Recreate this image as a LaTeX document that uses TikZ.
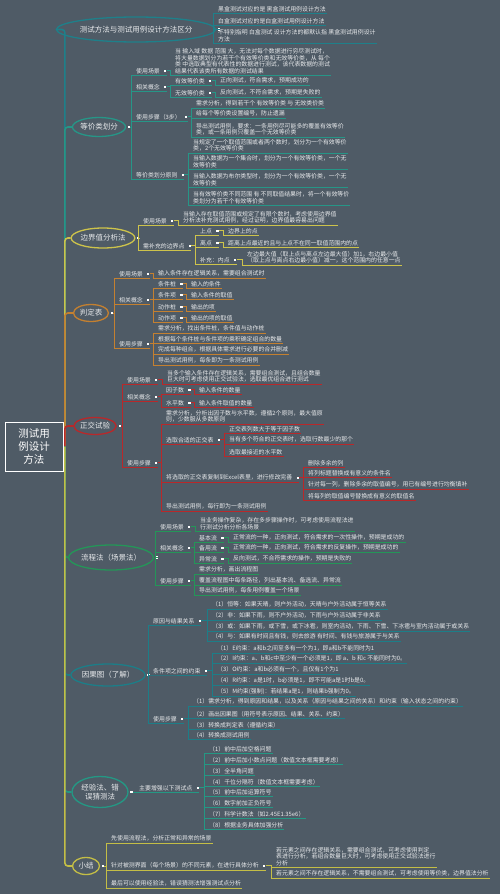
\documentclass[tikz,border=0pt]{standalone}
\usepackage{fontspec}
\setmainfont{Noto Sans CJK SC}
\usetikzlibrary{shapes.geometric,positioning}

\definecolor{bgcol}{RGB}{79,91,102}
\definecolor{txtcol}{RGB}{232,234,236}
\definecolor{c1}{RGB}{30,128,138}
\definecolor{c2}{RGB}{38,150,135}
\definecolor{c3}{RGB}{205,195,75}
\definecolor{c4}{RGB}{196,128,48}
\definecolor{c5}{RGB}{185,40,42}
\definecolor{c6}{RGB}{36,150,88}
\definecolor{c7}{RGB}{28,126,136}
\definecolor{c8}{RGB}{36,152,132}
\definecolor{c9}{RGB}{196,190,70}

\begin{document}
\begin{tikzpicture}[x=1pt, y=-1pt,
  every node/.style={text=txtcol},
  topic/.style={ellipse, draw, line width=1.3pt, inner sep=0pt, align=center, font=\fontsize{7.5}{9}\selectfont},
  leaf/.style={anchor=south west, inner xsep=1pt, inner ysep=1.2pt, align=left, font=\fontsize{5.9}{6.4}\selectfont},
  knob/.style={fill=white, inner sep=0pt, minimum size=2.2pt},
  trunk/.style={line width=1.6pt, rounded corners=3pt},
  sub/.style={line width=0.9pt}]

  \fill[bgcol] (0,0) rectangle (500,894);
  \useasboundingbox (0,0) rectangle (500,894);

  \node[draw=white, line width=0.8pt, minimum width=58pt, minimum height=49pt, inner sep=0pt,
        align=center, text=white, font=\fontsize{10.5}{13}\selectfont] (root) at (34,446.5) {测试用\\例设计\\方法};

  % first level
  \node[topic, draw=c1, minimum width=136pt, minimum height=25pt] (n1) at (136,29.5) {测试方法与测试用例设计方法区分};
  \node[topic, draw=c2, minimum width=52pt, minimum height=19pt] (n2) at (99,127) {等价类划分};
  \node[topic, draw=c3, minimum width=60pt, minimum height=20pt] (n3) at (103,238) {边界值分析法};
  \node[topic, draw=c4, minimum width=35pt, minimum height=17pt] (n4) at (91,313) {判定表};
  \node[topic, draw=c5, minimum width=42pt, minimum height=17pt] (n5) at (95,426) {正交试验};
  \node[topic, draw=c6, minimum width=77pt, minimum height=25pt] (n6) at (111,557.5) {流程法（场景法）};
  \node[topic, draw=c7, minimum width=70pt, minimum height=22pt] (n7) at (108,675) {因果图（了解）};
  \node[topic, draw=c8, minimum width=56pt, minimum height=31pt] (n8) at (100,792) {经验法、错\\误猜测法};
  \node[topic, draw=c9, minimum width=27pt, minimum height=17pt] (n9) at (86,866) {小结};

  \draw[trunk,c1] ([xshift=1.5pt]root.east) |- (n1.west);
  \draw[trunk,c2] ([xshift=1.5pt]root.east) |- (n2.west);
  \draw[trunk,c3] ([xshift=1.5pt]root.east) |- (n3.west);
  \draw[trunk,c4] ([xshift=1.5pt]root.east) |- (n4.west);
  \draw[trunk,c5] ([xshift=1.5pt]root.east) |- (n5.west);
  \draw[trunk,c6] ([xshift=1.5pt]root.east) |- (n6.west);
  \draw[trunk,c7] ([xshift=1.5pt]root.east) |- (n7.west);
  \draw[trunk,c8] ([xshift=1.5pt]root.east) |- (n8.west);
  \draw[trunk,c9] ([xshift=1.5pt]root.east) |- (n9.west);

  % 测试方法与测试用例设计方法区分
  \node[knob, right=1.5pt of n1] (p1) {};
  \node[leaf] (a11) at (217,13) {黑盒测试对应的是 黑盒测试用例设计方法};
  \node[leaf] (a12) at (217,25) {白盒测试对应的是白盒测试用例设计方法};
  \node[leaf] (a13) at (217,43) {不特别指明 白盒测试 设计方法的都默认指 黑盒测试用例设计\\方法};
  \draw[sub,c1] (p1.east) -| ([xshift=-4pt]a11.south west) -- (a11.south east);
  \draw[sub,c1] (p1.east) -| ([xshift=-4pt]a12.south west) -- (a12.south east);
  \draw[sub,c1] (p1.east) -| ([xshift=-4pt]a13.south west) -- (a13.south east);

  % 等价类划分
  \node[knob, right=1.5pt of n2] (p2) {};
  \node[leaf] (b1) at (135,75) {使用场景};
  \node[knob, right=3pt of b1] (b1d) {};
  \node[leaf] (b1a) at (174,75) {当 输入域 数据 范围 大，无法对每个数据进行穷尽测试时，\\将大量数据划分为若干个有效等价类和无效等价类，从 每个\\类 中选取典型有代表性的数据进行测试，该代表数据的测试\\结果代表该类所有数据的测试结果};
  \node[leaf] (b2) at (135,91) {相关概念};
  \node[knob, right=3pt of b2] (b2d) {};
  \node[leaf] (b21) at (174,85) {有效等价类};
  \node[knob, right=3pt of b21] (b21d) {};
  \node[leaf] (b21a) at (219,85) {正向测试，符合需求，预期成功的};
  \node[leaf] (b22) at (174,97) {无效等价类};
  \node[knob, right=3pt of b22] (b22d) {};
  \node[leaf] (b22a) at (219,97) {反向测试，不符合需求，预期是失败的};
  \node[leaf] (b3) at (135,121) {使用步骤（3步）};
  \node[knob, right=3pt of b3] (b3d) {};
  \node[leaf] (b31) at (195,108) {需求分析，得到若干个 有效等价类 与 无效类价类};
  \node[leaf] (b32) at (195,118) {给每个等价类设置编号，防止遗漏};
  \node[leaf] (b33) at (195,137) {导出测试用例，要求：一条用例尽可能多的覆盖有效等价\\类，或一条用例只覆盖一个无效等价类};
  \node[leaf] (b4) at (135,179) {等价类划分原则};
  \node[knob, right=3pt of b4] (b4d) {};
  \node[leaf] (b41) at (192,153) {当规定了一个取值范围或者两个数时，划分为一个有效等价\\类，2个无效等价类};
  \node[leaf] (b42) at (192,169) {当输入数据为一个集合时，划分为一个有效等价类，一个无\\效等价类};
  \node[leaf] (b43) at (192,187) {当输入数据为布尔类型时，划分为一个有效等价类，一个无\\效等价类};
  \node[leaf] (b44) at (192,205) {当有效等价类不同范围 有 不同取值结果时，将一个有效等价\\类划分为若干个有效等价类};
  \draw[sub,c2] (p2.east) -| ([xshift=-4pt]b1.south west) -- (b1.south east -| b1d.east);
  \draw[sub,c2] (b1d.east) -| ([xshift=-4pt]b1a.south west) -- (b1a.south east);
  \draw[sub,c2] (p2.east) -| ([xshift=-4pt]b2.south west) -- (b2.south east -| b2d.east);
  \draw[sub,c2] (b2d.east) -| ([xshift=-4pt]b21.south west) -- (b21.south east -| b21d.east);
  \draw[sub,c2] (b21d.east) -| ([xshift=-4pt]b21a.south west) -- (b21a.south east);
  \draw[sub,c2] (b2d.east) -| ([xshift=-4pt]b22.south west) -- (b22.south east -| b22d.east);
  \draw[sub,c2] (b22d.east) -| ([xshift=-4pt]b22a.south west) -- (b22a.south east);
  \draw[sub,c2] (p2.east) -| ([xshift=-4pt]b3.south west) -- (b3.south east -| b3d.east);
  \draw[sub,c2] (b3d.east) -| ([xshift=-4pt]b31.south west) -- (b31.south east);
  \draw[sub,c2] (b3d.east) -| ([xshift=-4pt]b32.south west) -- (b32.south east);
  \draw[sub,c2] (b3d.east) -| ([xshift=-4pt]b33.south west) -- (b33.south east);
  \draw[sub,c2] (p2.east) -| ([xshift=-4pt]b4.south west) -- (b4.south east -| b4d.east);
  \draw[sub,c2] (b4d.east) -| ([xshift=-4pt]b41.south west) -- (b41.south east);
  \draw[sub,c2] (b4d.east) -| ([xshift=-4pt]b42.south west) -- (b42.south east);
  \draw[sub,c2] (b4d.east) -| ([xshift=-4pt]b43.south west) -- (b43.south east);
  \draw[sub,c2] (b4d.east) -| ([xshift=-4pt]b44.south west) -- (b44.south east);

  % 边界值分析法
  \node[knob, right=1.5pt of n3] (p3) {};
  \node[leaf] (e1) at (142,225) {使用场景};
  \node[knob, right=3pt of e1] (e1d) {};
  \node[leaf] (e1a) at (182,225) {当输入存在取值范围或规定了有限个数时，考虑使用边界值\\分析法补充测试用例，经过证明，边界值最容易出问题};
  \node[leaf] (e2) at (142,250) {需补充的边界点};
  \node[knob, right=3pt of e2] (e2d) {};
  \node[leaf] (e21) at (199,235) {上点};
  \node[knob, right=3pt of e21] (e21d) {};
  \node[leaf] (e21a) at (227,235) {边界上的点};
  \node[leaf] (e22) at (199,247) {离点};
  \node[knob, right=3pt of e22] (e22d) {};
  \node[leaf] (e22a) at (227,247) {距离上点最近的且与上点不在同一取值范围内的点};
  \node[leaf] (e23) at (199,264) {补充：内点};
  \node[knob, right=3pt of e23] (e23d) {};
  \node[leaf] (e23a) at (246,265) {左边最大值（取上点与离点左边最大值）加1，右边最小值\\（取上点与离点右边最小值）减一，这个范围内的任意一点};
  \draw[sub,c3] (p3.east) -| ([xshift=-4pt]e1.south west) -- (e1.south east -| e1d.east);
  \draw[sub,c3] (e1d.east) -| ([xshift=-4pt]e1a.south west) -- (e1a.south east);
  \draw[sub,c3] (p3.east) -| ([xshift=-4pt]e2.south west) -- (e2.south east -| e2d.east);
  \draw[sub,c3] (e2d.east) -| ([xshift=-4pt]e21.south west) -- (e21.south east -| e21d.east);
  \draw[sub,c3] (e21d.east) -| ([xshift=-4pt]e21a.south west) -- (e21a.south east);
  \draw[sub,c3] (e2d.east) -| ([xshift=-4pt]e22.south west) -- (e22.south east -| e22d.east);
  \draw[sub,c3] (e22d.east) -| ([xshift=-4pt]e22a.south west) -- (e22a.south east);
  \draw[sub,c3] (e2d.east) -| ([xshift=-4pt]e23.south west) -- (e23.south east -| e23d.east);
  \draw[sub,c3] (e23d.east) -| ([xshift=-4pt]e23a.south west) -- (e23a.south east);

  % 判定表
  \node[knob, right=1.5pt of n4] (p4) {};
  \node[leaf] (f1) at (118,278) {使用场景};
  \node[knob, right=3pt of f1] (f1d) {};
  \node[leaf] (f1a) at (157,278) {输入条件存在逻辑关系，需要组合测试时};
  \node[leaf] (f2) at (118,304) {相关概念};
  \node[knob, right=3pt of f2] (f2d) {};
  \node[leaf] (f21) at (157,288) {条件桩};
  \node[knob, right=3pt of f21] (f21d) {};
  \node[leaf] (f21a) at (190,288) {输入的条件};
  \node[leaf] (f22) at (157,299) {条件项};
  \node[knob, right=3pt of f22] (f22d) {};
  \node[leaf] (f22a) at (190,299) {输入条件的取值};
  \node[leaf] (f23) at (157,311) {动作桩};
  \node[knob, right=3pt of f23] (f23d) {};
  \node[leaf] (f23a) at (190,311) {输出的项};
  \node[leaf] (f24) at (157,322) {动作项};
  \node[knob, right=3pt of f24] (f24d) {};
  \node[leaf] (f24a) at (190,322) {输出的项的取值};
  \node[leaf] (f3) at (118,348) {使用步骤};
  \node[knob, right=3pt of f3] (f3d) {};
  \node[leaf] (f31) at (157,333) {需求分析，找出条件桩，条件值与动作桩};
  \node[leaf] (f32) at (157,343) {根据每个条件桩与条件项的乘积确定组合的数量};
  \node[leaf] (f33) at (157,354) {完成每种组合，根据具体需求进行必要的合并删减};
  \node[leaf] (f34) at (157,365) {导出测试用例，每条即为一条测试用例};
  \draw[sub,c4] (p4.east) -| ([xshift=-4pt]f1.south west) -- (f1.south east -| f1d.east);
  \draw[sub,c4] (f1d.east) -| ([xshift=-4pt]f1a.south west) -- (f1a.south east);
  \draw[sub,c4] (p4.east) -| ([xshift=-4pt]f2.south west) -- (f2.south east -| f2d.east);
  \draw[sub,c4] (f2d.east) -| ([xshift=-4pt]f21.south west) -- (f21.south east -| f21d.east);
  \draw[sub,c4] (f21d.east) -| ([xshift=-4pt]f21a.south west) -- (f21a.south east);
  \draw[sub,c4] (f2d.east) -| ([xshift=-4pt]f22.south west) -- (f22.south east -| f22d.east);
  \draw[sub,c4] (f22d.east) -| ([xshift=-4pt]f22a.south west) -- (f22a.south east);
  \draw[sub,c4] (f2d.east) -| ([xshift=-4pt]f23.south west) -- (f23.south east -| f23d.east);
  \draw[sub,c4] (f23d.east) -| ([xshift=-4pt]f23a.south west) -- (f23a.south east);
  \draw[sub,c4] (f2d.east) -| ([xshift=-4pt]f24.south west) -- (f24.south east -| f24d.east);
  \draw[sub,c4] (f24d.east) -| ([xshift=-4pt]f24a.south west) -- (f24a.south east);
  \draw[sub,c4] (p4.east) -| ([xshift=-4pt]f3.south west) -- (f3.south east -| f3d.east);
  \draw[sub,c4] (f3d.east) -| ([xshift=-4pt]f31.south west) -- (f31.south east);
  \draw[sub,c4] (f3d.east) -| ([xshift=-4pt]f32.south west) -- (f32.south east);
  \draw[sub,c4] (f3d.east) -| ([xshift=-4pt]f33.south west) -- (f33.south east);
  \draw[sub,c4] (f3d.east) -| ([xshift=-4pt]f34.south west) -- (f34.south east);

  % 正交试验
  \node[knob, right=1.5pt of n5] (p5) {};
  \node[leaf] (g1) at (126,384) {使用场景};
  \node[knob, right=3pt of g1] (g1d) {};
  \node[leaf] (g1a) at (166,384) {当多个输入条件存在逻辑关系，需要组合测试，且组合数量\\巨大时可考虑使用正交试验法，选取最优组合进行测试};
  \node[leaf] (g2) at (126,401) {相关概念};
  \node[knob, right=3pt of g2] (g2d) {};
  \node[leaf] (g21) at (165,394) {因子数};
  \node[knob, right=3pt of g21] (g21d) {};
  \node[leaf] (g21a) at (198,394) {输入条件的数量};
  \node[leaf] (g22) at (165,407) {水平数};
  \node[knob, right=3pt of g22] (g22d) {};
  \node[leaf] (g22a) at (198,407) {输入条件取值的数量};
  \node[leaf] (g3) at (126,467) {使用步骤};
  \node[knob, right=3pt of g3] (g3d) {};
  \node[leaf] (g31) at (165,424) {需求分析，分析出因子数与水平数，遵循2个原则，最大值原\\则，少数服从多数原则};
  \node[leaf] (g32) at (165,444) {选取合适的正交表};
  \node[knob, right=3pt of g32] (g32d) {};
  \node[leaf] (g321) at (228,433) {正交表列数大于等于因子数};
  \node[leaf] (g322) at (228,444) {当有多个符合的正交表时，选取行数最少的那个};
  \node[leaf] (g323) at (228,456) {选取最接近的水平数};
  \node[leaf] (g33) at (165,482) {将选取的正交表复制到Excel表里，进行修改完善};
  \node[knob, right=3pt of g33] (g33d) {};
  \node[leaf] (g331) at (307,467) {删除多余的列};
  \node[leaf] (g332) at (307,477) {将列标题替换成有意义的条件名};
  \node[leaf] (g333) at (307,489) {针对每一列，删除多余的取值编号，用已有编号进行均衡填补};
  \node[leaf] (g334) at (307,500) {将每列的取值编号替换成有意义的取值名};
  \node[leaf] (g34) at (165,511) {导出测试用例，每行即为一条测试用例};
  \draw[sub,c5] (p5.east) -| ([xshift=-4pt]g1.south west) -- (g1.south east -| g1d.east);
  \draw[sub,c5] (g1d.east) -| ([xshift=-4pt]g1a.south west) -- (g1a.south east);
  \draw[sub,c5] (p5.east) -| ([xshift=-4pt]g2.south west) -- (g2.south east -| g2d.east);
  \draw[sub,c5] (g2d.east) -| ([xshift=-4pt]g21.south west) -- (g21.south east -| g21d.east);
  \draw[sub,c5] (g21d.east) -| ([xshift=-4pt]g21a.south west) -- (g21a.south east);
  \draw[sub,c5] (g2d.east) -| ([xshift=-4pt]g22.south west) -- (g22.south east -| g22d.east);
  \draw[sub,c5] (g22d.east) -| ([xshift=-4pt]g22a.south west) -- (g22a.south east);
  \draw[sub,c5] (p5.east) -| ([xshift=-4pt]g3.south west) -- (g3.south east -| g3d.east);
  \draw[sub,c5] (g3d.east) -| ([xshift=-4pt]g31.south west) -- (g31.south east);
  \draw[sub,c5] (g3d.east) -| ([xshift=-4pt]g32.south west) -- (g32.south east -| g32d.east);
  \draw[sub,c5] (g32d.east) -| ([xshift=-4pt]g321.south west) -- (g321.south east);
  \draw[sub,c5] (g32d.east) -| ([xshift=-4pt]g322.south west) -- (g322.south east);
  \draw[sub,c5] (g32d.east) -| ([xshift=-4pt]g323.south west) -- (g323.south east);
  \draw[sub,c5] (g3d.east) -| ([xshift=-4pt]g33.south west) -- (g33.south east -| g33d.east);
  \draw[sub,c5] (g33d.east) -| ([xshift=-4pt]g331.south west) -- (g331.south east);
  \draw[sub,c5] (g33d.east) -| ([xshift=-4pt]g332.south west) -- (g332.south east);
  \draw[sub,c5] (g33d.east) -| ([xshift=-4pt]g333.south west) -- (g333.south east);
  \draw[sub,c5] (g33d.east) -| ([xshift=-4pt]g334.south west) -- (g334.south east);
  \draw[sub,c5] (g3d.east) -| ([xshift=-4pt]g34.south west) -- (g34.south east);

  % 流程法（场景法）
  \node[knob, right=1.5pt of n6] (p6) {};
  \node[leaf] (h1) at (159,531) {使用场景};
  \node[knob, right=3pt of h1] (h1d) {};
  \node[leaf] (h1a) at (199,531) {当业务操作复杂，存在多步骤操作时，可考虑使用流程法进\\行测试分析分析各场景};
  \node[leaf] (h2) at (159,552) {相关概念};
  \node[knob, right=3pt of h2] (h2d) {};
  \node[leaf] (h21) at (198,542) {基本流};
  \node[knob, right=3pt of h21] (h21d) {};
  \node[leaf] (h21a) at (232,542) {正常流的一种，正向测试，符合需求的一次性操作，预期是成功的};
  \node[leaf] (h22) at (198,552) {备用流};
  \node[knob, right=3pt of h22] (h22d) {};
  \node[leaf] (h22a) at (232,552) {正常流的一种，正向测试，符合需求的反复操作，预期是成功的};
  \node[leaf] (h23) at (198,563) {异常流};
  \node[knob, right=3pt of h23] (h23d) {};
  \node[leaf] (h23a) at (232,563) {反向测试，不合符需求的操作，预期是失败的};
  \node[leaf] (h3) at (159,585) {使用步骤};
  \node[knob, right=3pt of h3] (h3d) {};
  \node[leaf] (h31) at (198,574) {需求分析，画出流程图};
  \node[leaf] (h32) at (198,585) {覆盖流程图中每条路径，列出基本流、备选流、异常流};
  \node[leaf] (h33) at (198,595) {导出测试用例，每条用例覆盖一个场景};
  \draw[sub,c6] (p6.east) -| ([xshift=-4pt]h1.south west) -- (h1.south east -| h1d.east);
  \draw[sub,c6] (h1d.east) -| ([xshift=-4pt]h1a.south west) -- (h1a.south east);
  \draw[sub,c6] (p6.east) -| ([xshift=-4pt]h2.south west) -- (h2.south east -| h2d.east);
  \draw[sub,c6] (h2d.east) -| ([xshift=-4pt]h21.south west) -- (h21.south east -| h21d.east);
  \draw[sub,c6] (h21d.east) -| ([xshift=-4pt]h21a.south west) -- (h21a.south east);
  \draw[sub,c6] (h2d.east) -| ([xshift=-4pt]h22.south west) -- (h22.south east -| h22d.east);
  \draw[sub,c6] (h22d.east) -| ([xshift=-4pt]h22a.south west) -- (h22a.south east);
  \draw[sub,c6] (h2d.east) -| ([xshift=-4pt]h23.south west) -- (h23.south east -| h23d.east);
  \draw[sub,c6] (h23d.east) -| ([xshift=-4pt]h23a.south west) -- (h23a.south east);
  \draw[sub,c6] (p6.east) -| ([xshift=-4pt]h3.south west) -- (h3.south east -| h3d.east);
  \draw[sub,c6] (h3d.east) -| ([xshift=-4pt]h31.south west) -- (h31.south east);
  \draw[sub,c6] (h3d.east) -| ([xshift=-4pt]h32.south west) -- (h32.south east);
  \draw[sub,c6] (h3d.east) -| ([xshift=-4pt]h33.south west) -- (h33.south east);

  % 因果图（了解）
  \node[knob, right=1.5pt of n7] (p7) {};
  \node[leaf] (k1) at (152,625) {原因与结果关系};
  \node[knob, right=3pt of k1] (k1d) {};
  \node[leaf] (k11) at (211,609) {（1）恒等：如果天晴，则户外活动，天晴与户外活动属于恒等关系};
  \node[leaf] (k12) at (211,620) {（2）非：如果下雨，则不户外活动，下雨与户外活动属于非关系};
  \node[leaf] (k13) at (211,631) {（3）或：如果下雨，或下雪，或下冰雹，则室内活动，下雨、下雪、下冰雹与室内活动属于或关系};
  \node[leaf] (k14) at (211,641) {（4）与：如果有时间且有钱，则去旅游 有时间、有钱与旅游属于与关系};
  \node[leaf] (k2) at (152,675) {条件项之间的约束};
  \node[knob, right=3pt of k2] (k2d) {};
  \node[leaf] (k21) at (216,653) {（1）E约束：a和b之间至多有一个为1，即a和b不能同时为1};
  \node[leaf] (k22) at (216,663) {（2）I约束：a、b和c中至少有一个必须是1，即 a、b 和c 不能同时为0。};
  \node[leaf] (k23) at (216,674) {（3）O约束：a和b必须有一个，且仅有1个为1};
  \node[leaf] (k24) at (216,685) {（4）R约束：a是1时，b必须是1，即不可能a是1时b是0。};
  \node[leaf] (k25) at (216,696) {（5）M约束(强制)：若结果a是1，则结果b强制为0。};
  \node[leaf] (k3) at (152,723) {使用步骤};
  \node[knob, right=3pt of k3] (k3d) {};
  \node[leaf] (k31) at (192,706) {（1）需求分析，得到原因和结果，以及关系（原因与结果之间的关系）和约束（输入状态之间的约束）};
  \node[leaf] (k32) at (192,718) {（2）画出因果图（用符号表示原因、结果、关系、约束）};
  \node[leaf] (k33) at (192,729) {（3）转换成判定表（遵循约束）};
  \node[leaf] (k34) at (192,739) {（4）转换成测试用例};
  \draw[sub,c7] (p7.east) -| ([xshift=-4pt]k1.south west) -- (k1.south east -| k1d.east);
  \draw[sub,c7] (k1d.east) -| ([xshift=-4pt]k11.south west) -- (k11.south east);
  \draw[sub,c7] (k1d.east) -| ([xshift=-4pt]k12.south west) -- (k12.south east);
  \draw[sub,c7] (k1d.east) -| ([xshift=-4pt]k13.south west) -- (k13.south east);
  \draw[sub,c7] (k1d.east) -| ([xshift=-4pt]k14.south west) -- (k14.south east);
  \draw[sub,c7] (p7.east) -| ([xshift=-4pt]k2.south west) -- (k2.south east -| k2d.east);
  \draw[sub,c7] (k2d.east) -| ([xshift=-4pt]k21.south west) -- (k21.south east);
  \draw[sub,c7] (k2d.east) -| ([xshift=-4pt]k22.south west) -- (k22.south east);
  \draw[sub,c7] (k2d.east) -| ([xshift=-4pt]k23.south west) -- (k23.south east);
  \draw[sub,c7] (k2d.east) -| ([xshift=-4pt]k24.south west) -- (k24.south east);
  \draw[sub,c7] (k2d.east) -| ([xshift=-4pt]k25.south west) -- (k25.south east);
  \draw[sub,c7] (p7.east) -| ([xshift=-4pt]k3.south west) -- (k3.south east -| k3d.east);
  \draw[sub,c7] (k3d.east) -| ([xshift=-4pt]k31.south west) -- (k31.south east);
  \draw[sub,c7] (k3d.east) -| ([xshift=-4pt]k32.south west) -- (k32.south east);
  \draw[sub,c7] (k3d.east) -| ([xshift=-4pt]k33.south west) -- (k33.south east);
  \draw[sub,c7] (k3d.east) -| ([xshift=-4pt]k34.south west) -- (k34.south east);

  % 经验法、错误猜测法
  \node[knob, right=1.5pt of n8] (p8) {};
  \node[leaf] (m1) at (138,792) {主要增强以下测试点};
  \node[knob, right=3pt of m1] (m1d) {};
  \node[leaf] (m11) at (208,753) {（1）前中后加空格问题};
  \node[leaf] (m12) at (208,764) {（2）前中后加小数点问题（数值文本框需要考虑）};
  \node[leaf] (m13) at (208,775) {（3）全半角问题};
  \node[leaf] (m14) at (208,786) {（4）千位分隔符（数值文本框需要考虑）};
  \node[leaf] (m15) at (208,796) {（5）前中后加运算符号};
  \node[leaf] (m16) at (208,807) {（6）数字前加正负符号};
  \node[leaf] (m17) at (208,818) {（7）科学计数法（如2.45E1.35e6）};
  \node[leaf] (m18) at (208,829) {（8）根据业务具体加强分析};
  \draw[sub,c8] (p8.east) -| ([xshift=-4pt]m1.south west) -- (m1.south east -| m1d.east);
  \draw[sub,c8] (m1d.east) -| ([xshift=-4pt]m11.south west) -- (m11.south east);
  \draw[sub,c8] (m1d.east) -| ([xshift=-4pt]m12.south west) -- (m12.south east);
  \draw[sub,c8] (m1d.east) -| ([xshift=-4pt]m13.south west) -- (m13.south east);
  \draw[sub,c8] (m1d.east) -| ([xshift=-4pt]m14.south west) -- (m14.south east);
  \draw[sub,c8] (m1d.east) -| ([xshift=-4pt]m15.south west) -- (m15.south east);
  \draw[sub,c8] (m1d.east) -| ([xshift=-4pt]m16.south west) -- (m16.south east);
  \draw[sub,c8] (m1d.east) -| ([xshift=-4pt]m17.south west) -- (m17.south east);
  \draw[sub,c8] (m1d.east) -| ([xshift=-4pt]m18.south west) -- (m18.south east);

  % 小结
  \node[knob, right=1.5pt of n9] (p9) {};
  \node[leaf] (q1) at (110,843) {先使用流程法，分析正常和异常的场景};
  \node[leaf] (q2) at (110,870) {针对被测界面（每个场景）的不同元素，在进行具体分析};
  \node[knob, right=3pt of q2] (q2d) {};
  \node[leaf] (q21) at (275,867) {若元素之间存在逻辑关系，需要组合测试，可考虑使用判定\\表进行分析，若组合数量巨大时，可考虑使用正交试验法进行\\分析};
  \node[leaf] (q22) at (275,878) {若元素之间不存在逻辑关系，不需要组合测试，可考虑使用等价类，边界值法分析};
  \node[leaf] (q3) at (110,888) {最后可以使用经验法，错误猜测法增强测试点分析};
  \draw[sub,c9] (p9.east) -| ([xshift=-4pt]q1.south west) -- (q1.south east);
  \draw[sub,c9] (p9.east) -| ([xshift=-4pt]q2.south west) -- (q2.south east -| q2d.east);
  \draw[sub,c9] (q2d.east) -| ([xshift=-4pt]q21.south west) -- (q21.south east);
  \draw[sub,c9] (q2d.east) -| ([xshift=-4pt]q22.south west) -- (q22.south east);
  \draw[sub,c9] (p9.east) -| ([xshift=-4pt]q3.south west) -- (q3.south east);
\end{tikzpicture}
\end{document}
